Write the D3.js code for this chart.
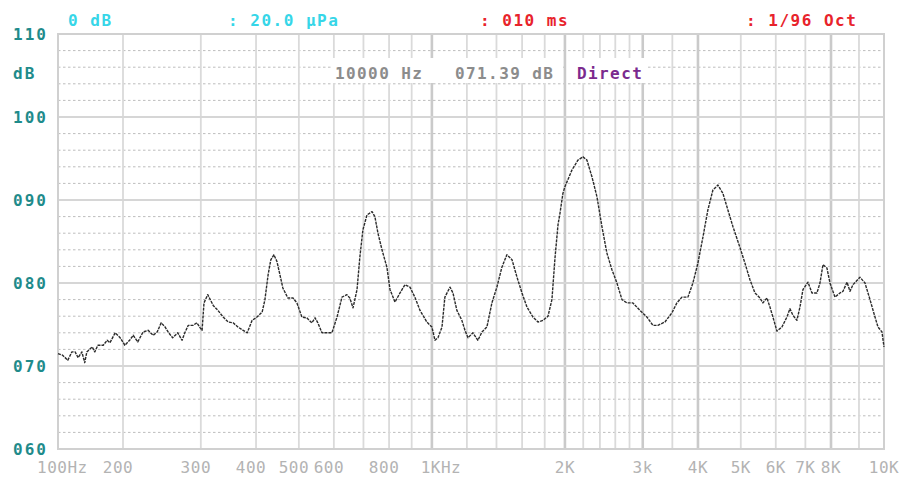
<!DOCTYPE html>
<html><head><meta charset="utf-8">
<script src="https://cdn.jsdelivr.net/npm/d3@7"></script>
<style>
html,body{margin:0;padding:0;background:#fff;}
svg{display:block;}
text{font-family:"DejaVu Sans Mono","Liberation Mono",monospace;}
</style></head>
<body>
<div id="chart"></div>
<script>
// ---- data ----
const freqs = [100,105,111,116,120,124,129,133,136,144,148,153,162,169,174,184,194,
  202,207,211,216,222,228,234,239,244,249,253,259,266,272,276,281,288,294,299,302,305,311,320,328,337,346,355,364,374,382,392,402,413,419,426,432,439,446,453,460,472,485,495,508,521,535,544,552,564,579,594,610,626,642,652,663,677,687,698,713,732,743,755,771,791,804,825,847,869,892,915,940,974,1000,
  1016,1032,1054,1070,1099,1116,1139,1169,1188,1207,1238,1271,1298,1332,1367,1403,1440,1478,1518,1558,1599,1641,1693,1738,1784,1831,1869,1899,1929,1949,1979,2000,
  2074,2140,2197,2243,2302,2363,2425,2489,2555,2622,2692,2763,2850,2956,3066,3163,3246,3367,3492,3584,3679,3796,3896,3999,
  4104,4212,4324,4438,4555,4675,4799,4977,5109,5244,5382,5524,5611,5729,5820,5911,6036,6195,6359,6459,6561,6699,6805,6912,7095,7244,7435,7553,7672,7833,7957,
  8136,8309,8414,8558,8666,8776,9038,9231,9427,9628,9750,9916,10000];
const levels = [71.5,71.3,70.7,71.7,71.7,71.0,71.7,70.4,71.7,72.3,71.7,72.5,72.5,73.1,72.8,74.0,73.4,
  72.5,73.1,73.7,72.9,74.1,74.3,73.7,74.1,75.2,74.7,74.1,73.4,74.0,73.1,74.0,74.9,74.9,75.2,74.6,74.3,77.6,78.6,77.3,76.7,75.9,75.3,75.2,74.7,74.3,74.0,75.5,75.9,76.5,78.0,81.0,82.8,83.4,82.6,81.0,79.4,78.2,78.2,77.6,75.9,75.8,75.2,75.8,75.2,74.0,74.0,74.0,75.9,78.3,78.6,78.2,77.0,79.2,83.1,86.4,88.2,88.6,88.0,86.0,84.0,81.9,79.2,77.7,78.8,79.8,79.5,78.3,76.7,75.3,74.7,
  73.1,73.4,74.7,78.3,79.5,78.8,76.7,75.5,74.3,73.4,74.0,73.1,74.1,74.7,77.6,79.5,81.9,83.4,82.8,80.7,78.8,77.1,75.9,75.3,75.5,76.0,78.0,83.0,87.0,88.4,90.8,91.6,
  93.6,94.8,95.2,94.8,92.8,90.4,86.8,83.6,81.6,80.0,78.0,77.6,77.6,76.7,75.9,74.9,74.9,75.3,76.4,77.6,78.3,78.3,80.0,82.4,
  85.5,88.8,91.2,91.8,90.8,88.8,86.8,84.3,82.4,80.4,78.8,78.2,77.6,78.2,77.1,75.9,74.2,74.7,75.9,76.9,76.1,75.5,77.1,79.2,80.1,78.8,78.8,80.0,82.2,81.8,80.0,
  78.3,78.8,79.0,80.1,79.0,79.8,80.7,80.0,78.0,75.9,74.7,74.1,72.3];

const gridFreqs = [200,300,400,500,600,700,800,900,1000,1200,1400,1600,1800,2000,2200,2400,2600,2800,3000,3500,4000,5000,6000,7000,8000,9000];
const majorFreqs = [1000,2000,3000,4000,8000];
const tickFreqs = [100,200,300,400,500,600,800,1000,2000,3000,4000,5000,6000,7000,8000,10000];
const tickLabels = ["100Hz","200","300","400","500","600","800","1KHz","2K","3k","4K","5K","6K","7K","8K","10K"];
const dbMajor = [60,70,80,90,100,110];
const dbLabels = ["060","070","080","090","100","110"];
const dbMinor = [62,64,66,68,72,74,76,78,82,84,86,88,92,94,96,98,102,104,106,108];

// ---- layout ----
const W = 907, H = 485;
const L = 58, R = 884, T = 34, B = 449;
const svg = d3.select("#chart").append("svg").attr("width", W).attr("height", H);
svg.append("rect").attr("width", W).attr("height", H).attr("fill", "#fff");

// analyser display frequency axis: log segments as drawn on the instrument
const x = d3.scaleLog().domain([100, 200, 8000, 10000]).range([L, 123, 831, R]);
const y = d3.scaleLinear().domain([60, 110]).range([B, T]);

const g = svg.append("g");
// dotted minor lines
g.selectAll(".minor").data(dbMinor).join("line")
  .attr("x1", L).attr("x2", R).attr("y1", d => y(d)).attr("y2", d => y(d))
  .attr("stroke", "#bdbdbd").attr("stroke-width", 1).attr("stroke-dasharray", "2.5,2.5");
// vertical grid
g.selectAll(".vg").data(gridFreqs).join("line")
  .attr("x1", d => x(d)).attr("x2", d => x(d)).attr("y1", T).attr("y2", B)
  .attr("stroke", d => majorFreqs.includes(d) ? "#cacaca" : "#dadada")
  .attr("stroke-width", d => majorFreqs.includes(d) ? 2.6 : 1.8);
// horizontal major lines
g.selectAll(".hg").data(dbMajor).join("line")
  .attr("x1", L).attr("x2", R).attr("y1", d => y(d)).attr("y2", d => y(d))
  .attr("stroke", "#d6d6d6").attr("stroke-width", 2);
// frame
g.append("rect").attr("x", L).attr("y", T).attr("width", R - L).attr("height", B - T)
  .attr("fill", "none").attr("stroke", "#d0d0d0").attr("stroke-width", 2);

// info box background
svg.append("rect").attr("x", 332).attr("y", 58).attr("width", 231).attr("height", 25).attr("fill", "#fff");
svg.append("rect").attr("x", 567).attr("y", 58).attr("width", 79).attr("height", 25).attr("fill", "#fff");

// curve
const line = d3.line().x((d, i) => x(freqs[i])).y(d => y(d));
svg.append("path").datum(levels).attr("d", line)
  .attr("fill", "none").attr("stroke", "#2b2b2b").attr("stroke-width", 1.4)
  .attr("stroke-dasharray", "3,1").attr("stroke-linejoin", "round");

// y labels
svg.selectAll(".yl").data(dbMajor).join("text")
  .attr("x", 13).attr("y", d => y(d) + 6)
  .text((d, i) => dbLabels[i])
  .attr("font-size", 16).attr("font-weight", "bold").attr("letter-spacing", 2)
  .attr("fill", "#1f8b8b");
svg.append("text").attr("x", 13).attr("y", 79).text("dB")
  .attr("font-size", 16).attr("font-weight", "bold").attr("letter-spacing", 2).attr("fill", "#1f8b8b");

// x labels
svg.selectAll(".xl").data(tickFreqs).join("text")
  .attr("x", (d, i) => i === 0 ? x(d) - 21 : x(d) + (tickLabels[i] === "1KHz" ? 9 : (d < 1000 ? -5 : 0)))
  .attr("y", 473)
  .attr("text-anchor", (d, i) => i === 0 ? "start" : "middle")
  .text((d, i) => tickLabels[i])
  .attr("font-size", 16).attr("letter-spacing", 0.5).attr("fill", "#b3b3b3");

// header
const hdr = [
  {t: "0 dB", x: 68, c: "#36d6e8"},
  {t: ": 20.0 \u03bcPa", x: 228, c: "#36d6e8"},
  {t: ": 010 ms", x: 480, c: "#e8232b"},
  {t: ": 1/96 Oct", x: 746, c: "#e8232b"}
];
svg.selectAll(".hd").data(hdr).join("text")
  .attr("x", d => d.x).attr("y", 26).text(d => d.t)
  .attr("font-size", 16).attr("font-weight", "bold").attr("letter-spacing", 1.5)
  .attr("fill", d => d.c);

// info row
const info = [
  {t: "10000 Hz", x: 335, c: "#8c8c8c"},
  {t: "071.39 dB", x: 455, c: "#8c8c8c"},
  {t: "Direct", x: 577, c: "#7b2a8e"}
];
svg.selectAll(".inf").data(info).join("text")
  .attr("x", d => d.x).attr("y", 79).text(d => d.t)
  .attr("font-size", 16).attr("font-weight", "bold").attr("letter-spacing", 1.4)
  .attr("fill", d => d.c);
</script>
</body></html>
